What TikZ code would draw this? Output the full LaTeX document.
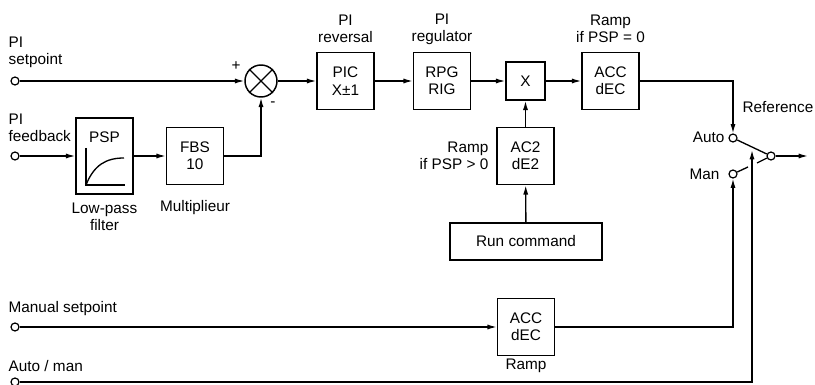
\documentclass[tikz,border=0pt]{standalone}
\usepackage{fontspec}
\setmainfont{Liberation Sans}
\usetikzlibrary{arrows.meta}
\tikzset{
	blk/.style={draw, line width=1.1pt, align=center, minimum width=42.75pt, minimum height=42.75pt, inner sep=0pt},
	term/.style={circle, draw, line width=0.9pt, fill=white, inner sep=0pt, minimum size=6pt},
	lbl/.style={align=center, inner sep=0pt},
}
\begin{document}
\begin{tikzpicture}[x=0.75pt, y=-0.75pt, >={Latex[length=7pt,width=3.8pt]}, line width=1pt, every node/.style={font=\fontsize{11.5}{13}\selectfont}]
		\useasboundingbox (0,0) rectangle (815,385);
		% inputs
		\node[term] (sp) at (15,81){};
		\node[term] (fb) at (15,156){};
		\node[term] (ms) at (15,327){};
		\node[term] (am) at (15,382){};
		\node[lbl, anchor=west, align=left] (splbl) at (8,52.5){PI\\setpoint};
		\node[lbl, anchor=west, align=left] (fblbl) at (8,127.5){PI\\feedback};
		\node[lbl, anchor=west] (mslbl) at (8,309){Manual setpoint};
		\node[lbl, anchor=west] (amlbl) at (8,366){Auto / man};
		% blocks
		\node[blk, minimum height=57pt] (psp) at (104.5,156){};
		\node[lbl] (psptxt) at (104.5,137){PSP};
		\draw (86,148) -- (86,185) -- (125,185);
		\draw (86,185) .. controls (94,165) and (106,158) .. (124,158);
		\node[blk] (fbs) at (195,156){FBS\\10};
		\node[circle, draw, line width=1.1pt, minimum size=24pt, inner sep=0pt] (sum) at (261,81){};
		\draw (sum.45) -- (sum.225) (sum.135) -- (sum.315);
		\node[blk] (pic) at (345.5,81){PIC\\X±1};
		\node[blk] (rpg) at (442,81){RPG\\RIG};
		\node[blk, minimum width=29.25pt, minimum height=28.5pt] (mul) at (525.5,81){X};
		\node[blk] (acc) at (610.5,81){ACC\\dEC};
		\node[blk] (ac2) at (525.5,156){AC2\\dE2};
		\node[blk, minimum width=114pt, minimum height=27.75pt] (run) at (526,241.5){Run command};
		\node[blk] (ramp) at (526,327){ACC\\dEC};
		% labels
		\node[lbl] (plus) at (236,66){+};
		\node[lbl] (minus) at (273,104){-};
		\node[lbl] (lowpass) at (104.5,217){Low-pass\\filter};
		\node[lbl] (mullbl) at (195,208){Multiplieur};
		\node[lbl] (piclbl) at (345.5,29){PI\\reversal};
		\node[lbl] (rpglbl) at (442,29){PI\\regulator};
		\node[lbl] (acclbl) at (610.5,29){Ramp\\if PSP = 0};
		\node[lbl, anchor=east, align=right] (ac2lbl) at (489,156){Ramp\\if PSP > 0};
		\node[lbl] (ramplbl) at (526,366){Ramp};
		% switch
		\node[term] (auto) at (733,138){};
		\node[term] (man) at (733,174){};
		\node[term] (out) at (771,156){};
		\node[lbl, anchor=east] (autolbl) at (725,137){Auto};
		\node[lbl, anchor=east] (manlbl) at (720,174){Man};
		\node[lbl] (reflbl) at (778,107){Reference};
		\coordinate (c1) at (757,163);
		\coordinate (c2) at (748,167);
		\coordinate (lev) at (752,150);
		\coordinate (ref) at (808,156);
		\draw (auto) -- (out);
		\draw (man) -- (c2);
		\draw (c1) -- (out);
		% connections
		\draw[->] (sp) -- (sum);
		\draw[->] (fb) -- (psp);
		\draw[->] (psp) -- (fbs);
		\draw[->] (fbs) -| (sum);
		\draw[->] (sum) -- (pic);
		\draw[->] (pic) -- (rpg);
		\draw[->] (rpg) -- (mul);
		\draw[->] (mul) -- (acc);
		\draw[->] (ac2) -- (mul);
		\draw[->] (run) -- (ac2);
		\draw[->] (acc) -| (auto);
		\draw[->] (ms) -- (ramp);
		\draw[->] (ramp) -| (man);
		\draw[->] (am) -| (lev);
		\draw[->] (out) -- (ref);
\end{tikzpicture}
\end{document}
